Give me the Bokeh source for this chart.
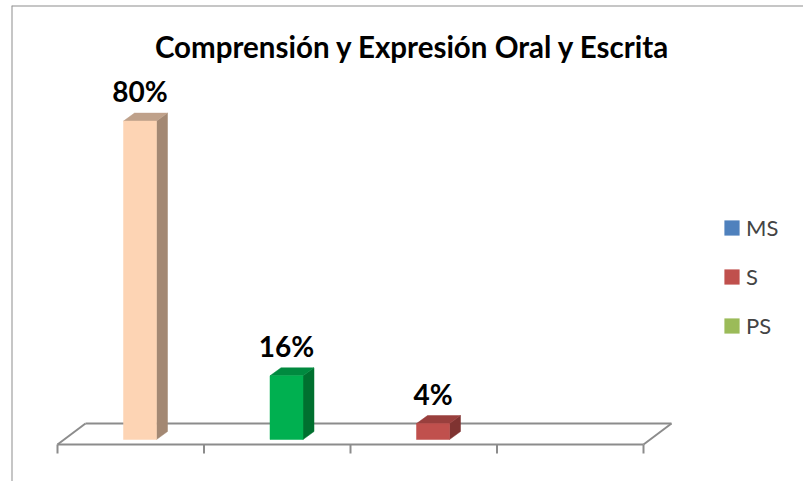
from bokeh.plotting import figure
from bokeh.models import Range1d, Legend, LegendItem, Label, Span, ColumnDataSource
from bokeh.embed import file_html
from bokeh.resources import INLINE
from bokeh.core.properties import value

# ---- data -------------------------------------------------------------
title_text = "Comprensión y Expresión Oral y Escrita"
series = ["MS", "S", "PS"]
values = [80, 16, 4]
labels = ["80%", "16%", "4%"]
n_slots = 4  # category slots along the floor; the last one stays empty

legend_colors = ["#4F81BD", "#C0504D", "#9BBB59"]
front_colors = ["#FDD4B4", "#00B050", "#C0504D"]
top_colors = ["#BFA18A", "#008A3F", "#993F3D"]
side_colors = ["#A38873", "#00702F", "#7F3331"]

# ---- layout / projection (pixels) -------------------------------------
W, H = 803, 481
FRAME_L, FRAME_T = 11, 5
PX_X = 146.5      # pixels per category slot
PX_Y = 3.98       # pixels per percentage point
X0_PX = 57        # canvas x of slot boundary 0
Y0_PX = 439       # canvas y of the bar base (value 0)

x_start = (FRAME_L - X0_PX) / PX_X
x_end = (W - X0_PX) / PX_X
y_end = (Y0_PX - FRAME_T) / PX_Y
y_start = (Y0_PX - H) / PX_Y

BAR_OFF = 66 / PX_X          # bar front face offset inside its slot
BAR_W = 33 / PX_X            # bar front face width
BAR_DX, BAR_DY = 11 / PX_X, 8 / PX_Y        # bar depth
FLOOR_Y = -5 / PX_Y                          # floor front edge
FLOOR_DX, FLOOR_DY = 28 / PX_X, 21 / PX_Y   # floor depth
TICK_LEN = 9 / PX_Y
LABEL_PAD = 30 / PX_Y

GRID = "#8C8C8C"
BORDER = "#8E8E8E"

p = figure(width=W, height=H, output_backend="svg", toolbar_location=None,
           x_range=Range1d(x_start, x_end), y_range=Range1d(y_start, y_end),
           x_axis_type=None, y_axis_type=None,
           min_border_left=FRAME_L, min_border_top=FRAME_T,
           min_border_right=0, min_border_bottom=0)
p.grid.visible = False
p.background_fill_color = "white"
p.border_fill_color = "white"
p.outline_line_color = None

# chart area border (left and top edges; the rest runs off the page)
p.add_layout(Span(location=x_start, dimension="height", line_color=BORDER, line_width=2))
p.add_layout(Span(location=y_end, dimension="width", line_color=BORDER, line_width=2))

# ---- floor ------------------------------------------------------------
fx0, fx1 = 0, n_slots
back_y = FLOOR_Y + FLOOR_DY
floor_x0 = [fx0, fx0 + FLOOR_DX, fx0, fx1]
floor_y0 = [FLOOR_Y, back_y, FLOOR_Y, FLOOR_Y]
floor_x1 = [fx1, fx1 + FLOOR_DX, fx0 + FLOOR_DX, fx1 + FLOOR_DX]
floor_y1 = [FLOOR_Y, back_y, back_y, back_y]
p.segment(floor_x0, floor_y0, floor_x1, floor_y1, line_color=GRID, line_width=2)

ticks = list(range(n_slots + 1))
p.segment(ticks, [FLOOR_Y] * len(ticks), ticks, [FLOOR_Y - TICK_LEN] * len(ticks),
          line_color=GRID, line_width=2)

# ---- 3D bars ----------------------------------------------------------
lefts = [i + BAR_OFF for i in range(len(values))]
rights = [l + BAR_W for l in lefts]

side_xs, side_ys, top_xs, top_ys = [], [], [], []
for l, r, v in zip(lefts, rights, values):
    side_xs.append([r, r + BAR_DX, r + BAR_DX, r])
    side_ys.append([0, BAR_DY, v + BAR_DY, v])
    top_xs.append([l, l + BAR_DX, r + BAR_DX, r])
    top_ys.append([v, v + BAR_DY, v + BAR_DY, v])

p.patches(side_xs, side_ys, fill_color=side_colors, line_color=side_colors, line_width=0.5)
p.patches(top_xs, top_ys, fill_color=top_colors, line_color=top_colors, line_width=0.5)
bars = ColumnDataSource(dict(left=lefts, right=rights, top=values,
                             bottom=[0] * len(values), color=front_colors))
p.quad(left="left", right="right", top="top", bottom="bottom", source=bars,
       fill_color="color", line_color="color", line_width=0.5)

# ---- value labels -----------------------------------------------------
p.text(x=[l + BAR_W / 2 for l in lefts], y=[v + LABEL_PAD for v in values], text=labels,
       text_align="center", text_baseline="alphabetic",
       text_font=value("Lato"), text_font_style="bold", text_font_size="28px",
       text_color="black")

# ---- title ------------------------------------------------------------
p.add_layout(Label(x=(412.5 - X0_PX) / PX_X, y=(Y0_PX - 45.5) / PX_Y, text=title_text,
                   text_align="center", text_baseline="alphabetic",
                   text_font="Lato", text_font_style="bold", text_font_size="29.5px",
                   text_color="black"))

# ---- legend -----------------------------------------------------------
items = []
for i, (name, col) in enumerate(zip(series, legend_colors)):
    swatch = p.quad(left=[lefts[i]], right=[rights[i]], top=[values[i]], bottom=[0],
                    fill_color=col, line_color=None, visible=False)
    items.append(LegendItem(label=name, renderers=[swatch]))
legend = Legend(items=items, location=(711, 142), glyph_width=19, glyph_height=19,
                label_height=25, label_standoff=5, spacing=22, padding=0, margin=0,
                label_text_font="Lato", label_text_font_size="22px",
                border_line_color=None, background_fill_alpha=0)
p.add_layout(legend)

open("out.html", "w").write(file_html(p, INLINE))
